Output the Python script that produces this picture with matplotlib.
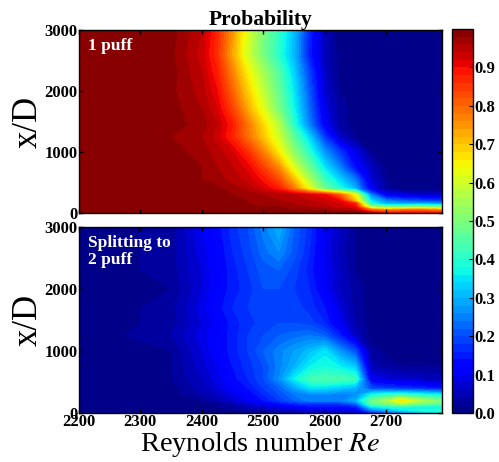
import numpy as np
import matplotlib
matplotlib.use('Agg')
import matplotlib.pyplot as plt

plt.rcParams['font.family'] = ['Liberation Serif', 'DejaVu Serif']
plt.rcParams['mathtext.fontset'] = 'stix'

# Reynolds numbers (columns) and streamwise positions x/D (rows)
RE = [2200, 2350, 2400, 2425, 2450, 2475, 2500, 2525, 2550, 2575,
      2600, 2625, 2650, 2675, 2700, 2725, 2750, 2790]
XD = [0, 50, 100, 150, 200, 300, 400, 550, 750, 1000, 1250, 1450,
      1700, 2000, 2300, 2600, 3000]

# probability of a single puff, one row per x/D (bottom to top)
P_ONE = [
    [1.00, 1.00, 1.00, 1.00, 1.00, 1.00, 1.00, 1.00, 1.00, 1.00, 1.00, 1.00, 1.00, 0.95, 0.90, 0.90, 0.90, 0.90],
    [1.00, 1.00, 1.00, 1.00, 1.00, 0.99, 0.99, 0.99, 0.98, 0.98, 0.97, 0.96, 0.95, 0.80, 0.75, 0.78, 0.80, 0.75],
    [1.00, 1.00, 1.00, 1.00, 0.99, 0.99, 0.98, 0.98, 0.97, 0.96, 0.95, 0.93, 0.90, 0.55, 0.50, 0.50, 0.52, 0.50],
    [1.00, 1.00, 1.00, 0.99, 0.99, 0.98, 0.98, 0.97, 0.96, 0.95, 0.94, 0.92, 0.88, 0.40, 0.30, 0.30, 0.30, 0.28],
    [1.00, 1.00, 0.99, 0.99, 0.985, 0.98, 0.97, 0.96, 0.95, 0.94, 0.93, 0.90, 0.70, 0.35, 0.25, 0.22, 0.20, 0.18],
    [1.00, 1.00, 0.99, 0.985, 0.98, 0.97, 0.96, 0.95, 0.94, 0.92, 0.90, 0.80, 0.64, 0.25, 0.10, 0.08, 0.07, 0.06],
    [1.00, 1.00, 0.99, 0.985, 0.97, 0.95, 0.92, 0.88, 0.78, 0.63, 0.48, 0.39, 0.30, 0.10, 0.03, 0.01, 0.01, 0.01],
    [1.00, 0.99, 0.98, 0.97, 0.95, 0.93, 0.89, 0.83, 0.71, 0.56, 0.42, 0.33, 0.24, 0.08, 0.02, 0.01, 0.00, 0.00],
    [1.00, 0.99, 0.98, 0.96, 0.94, 0.91, 0.84, 0.76, 0.61, 0.48, 0.35, 0.25, 0.13, 0.06, 0.01, 0.00, 0.00, 0.00],
    [1.00, 0.99, 0.97, 0.95, 0.92, 0.86, 0.77, 0.66, 0.52, 0.40, 0.27, 0.18, 0.09, 0.02, 0.00, 0.00, 0.00, 0.00],
    [1.00, 0.98, 0.96, 0.93, 0.87, 0.79, 0.70, 0.60, 0.46, 0.33, 0.18, 0.06, 0.02, 0.01, 0.00, 0.00, 0.00, 0.00],
    [1.00, 0.99, 0.97, 0.94, 0.88, 0.78, 0.68, 0.57, 0.40, 0.25, 0.11, 0.03, 0.01, 0.00, 0.00, 0.00, 0.00, 0.00],
    [1.00, 0.99, 0.96, 0.92, 0.84, 0.73, 0.62, 0.50, 0.37, 0.23, 0.09, 0.03, 0.01, 0.00, 0.00, 0.00, 0.00, 0.00],
    [1.00, 0.985, 0.95, 0.90, 0.80, 0.69, 0.58, 0.47, 0.35, 0.21, 0.07, 0.02, 0.01, 0.00, 0.00, 0.00, 0.00, 0.00],
    [1.00, 0.99, 0.94, 0.88, 0.77, 0.65, 0.55, 0.45, 0.33, 0.19, 0.06, 0.01, 0.00, 0.00, 0.00, 0.00, 0.00, 0.00],
    [1.00, 0.985, 0.93, 0.86, 0.73, 0.60, 0.49, 0.40, 0.30, 0.15, 0.05, 0.01, 0.00, 0.00, 0.00, 0.00, 0.00, 0.00],
    [1.00, 0.99, 0.94, 0.87, 0.75, 0.61, 0.50, 0.41, 0.31, 0.16, 0.05, 0.00, 0.00, 0.00, 0.00, 0.00, 0.00, 0.00],
]

# probability of splitting to 2 puffs
P_SPLIT = [
    [0.00, 0.00, 0.00, 0.00, 0.01, 0.02, 0.03, 0.04, 0.05, 0.06, 0.06, 0.06, 0.06, 0.15, 0.20, 0.25, 0.30, 0.35],
    [0.00, 0.00, 0.00, 0.01, 0.02, 0.03, 0.04, 0.05, 0.06, 0.08, 0.08, 0.09, 0.10, 0.25, 0.30, 0.35, 0.38, 0.40],
    [0.00, 0.00, 0.01, 0.02, 0.03, 0.05, 0.07, 0.09, 0.11, 0.13, 0.13, 0.13, 0.15, 0.35, 0.38, 0.40, 0.37, 0.35],
    [0.00, 0.00, 0.01, 0.02, 0.04, 0.07, 0.10, 0.13, 0.16, 0.18, 0.18, 0.18, 0.22, 0.45, 0.50, 0.55, 0.50, 0.46],
    [0.00, 0.00, 0.02, 0.04, 0.07, 0.10, 0.14, 0.18, 0.22, 0.25, 0.25, 0.25, 0.30, 0.48, 0.55, 0.68, 0.58, 0.50],
    [0.00, 0.01, 0.04, 0.06, 0.09, 0.12, 0.16, 0.20, 0.24, 0.26, 0.26, 0.25, 0.26, 0.36, 0.40, 0.40, 0.38, 0.35],
    [0.00, 0.01, 0.05, 0.08, 0.11, 0.14, 0.18, 0.22, 0.28, 0.34, 0.34, 0.32, 0.30, 0.20, 0.18, 0.17, 0.16, 0.14],
    [0.00, 0.02, 0.06, 0.09, 0.13, 0.16, 0.20, 0.26, 0.36, 0.43, 0.44, 0.44, 0.42, 0.10, 0.08, 0.07, 0.06, 0.05],
    [0.00, 0.02, 0.07, 0.10, 0.14, 0.17, 0.20, 0.25, 0.30, 0.36, 0.38, 0.36, 0.32, 0.05, 0.03, 0.02, 0.02, 0.02],
    [0.00, 0.02, 0.08, 0.12, 0.15, 0.18, 0.22, 0.25, 0.28, 0.31, 0.35, 0.27, 0.20, 0.03, 0.01, 0.00, 0.00, 0.00],
    [0.00, 0.04, 0.09, 0.12, 0.15, 0.18, 0.20, 0.22, 0.23, 0.24, 0.22, 0.15, 0.06, 0.01, 0.00, 0.00, 0.00, 0.00],
    [0.00, 0.03, 0.08, 0.11, 0.15, 0.17, 0.19, 0.20, 0.20, 0.19, 0.16, 0.10, 0.04, 0.01, 0.00, 0.00, 0.00, 0.00],
    [0.00, 0.03, 0.09, 0.13, 0.16, 0.18, 0.20, 0.20, 0.19, 0.17, 0.14, 0.08, 0.03, 0.01, 0.00, 0.00, 0.00, 0.00],
    [0.00, 0.02, 0.08, 0.12, 0.15, 0.17, 0.20, 0.20, 0.18, 0.16, 0.11, 0.06, 0.03, 0.01, 0.00, 0.00, 0.00, 0.00],
    [0.00, 0.03, 0.08, 0.12, 0.15, 0.18, 0.21, 0.22, 0.19, 0.15, 0.10, 0.06, 0.02, 0.00, 0.00, 0.00, 0.00, 0.00],
    [0.00, 0.03, 0.09, 0.12, 0.16, 0.19, 0.23, 0.26, 0.21, 0.16, 0.10, 0.05, 0.02, 0.00, 0.00, 0.00, 0.00, 0.00],
    [0.00, 0.03, 0.10, 0.13, 0.17, 0.20, 0.25, 0.30, 0.22, 0.17, 0.10, 0.06, 0.02, 0.00, 0.00, 0.00, 0.00, 0.00],
]

XTICKS = [2200, 2300, 2400, 2500, 2600, 2700]
YTICKS = [0, 1000, 2000, 3000]
CTICKS = [0, 0.1, 0.2, 0.3, 0.4, 0.5, 0.6, 0.7, 0.8, 0.9]

levels = np.linspace(0, 1, 51)

fig = plt.figure(figsize=(4.99, 4.62), dpi=100)
ax1 = fig.add_axes([0.158, 0.539, 0.727, 0.396])
ax2 = fig.add_axes([0.158, 0.106, 0.727, 0.403])
cax = fig.add_axes([0.906, 0.106, 0.042, 0.831])

for ax, data, label in [(ax1, P_ONE, '1 puff'), (ax2, P_SPLIT, 'Splitting to\n2 puff')]:
    cf = ax.contourf(RE, XD, np.array(data), levels=levels, cmap='jet',
                     vmin=0, vmax=1)
    ax.set_xlim(2200, 2790)
    ax.set_ylim(0, 3000)
    ax.set_xticks(XTICKS)
    ax.set_yticks(YTICKS)
    ax.tick_params(direction='in', top=True, right=True, length=3, width=1,
                   labelsize=12, pad=1)
    for t in ax.get_xticklabels() + ax.get_yticklabels():
        t.set_fontweight('bold')
    for s in ax.spines.values():
        s.set_linewidth(1)
    ax.set_ylabel('x/D', fontsize=25, labelpad=0)
    ax.text(0.025, 0.955, label, transform=ax.transAxes, color='white',
            fontsize=12.5, fontweight='bold', va='top', ha='left',
            linespacing=1.1)

ax1.set_xticklabels([])
ax1.set_title('Probability', fontsize=15.5, fontweight='bold', pad=2)
ax2.set_xlabel('Reynolds number $Re$', fontsize=20.5, labelpad=0)

cb = fig.colorbar(cf, cax=cax, ticks=CTICKS)
cb.ax.tick_params(direction='in', length=3, labelsize=12, pad=1)
for t in cb.ax.get_yticklabels():
    t.set_fontweight('bold')
cb.outline.set_linewidth(1)

fig.savefig('out.png', dpi=100)
